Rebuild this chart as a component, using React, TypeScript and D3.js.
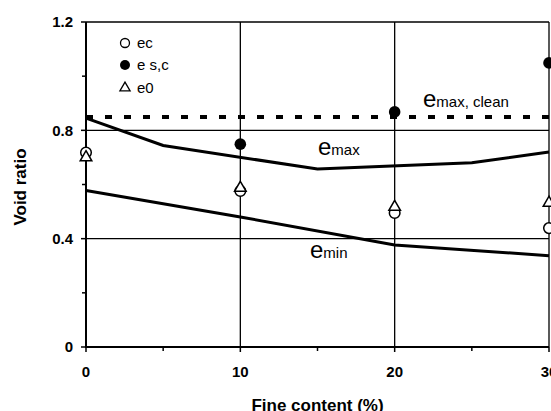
import React from "react";
import * as d3 from "d3";

// fine content (%) where the specimens were tested
const fineContent = [0, 10, 20, 30];
const ecValues = [0.718, 0.576, 0.495, 0.439];
const escValues = [null, 0.749, 0.868, 1.049];
const e0Values = [0.7, 0.587, 0.517, 0.532];

// limit void ratio curves
const emaxFines = [0, 5, 15, 25, 30];
const emaxValues = [0.845, 0.744, 0.657, 0.68, 0.72];
const eminFines = [0, 10, 20, 30];
const eminValues = [0.578, 0.48, 0.377, 0.337];
const emaxClean = 0.849;

const xTicks = [0, 10, 20, 30];
const xMinor = [5, 15, 25];
const yTicks = [0, 0.4, 0.8, 1.2];
const yMinor = [0.2, 0.6, 1.0];

const W = 551;
const H = 411;
const font = "'Liberation Sans', Arial, sans-serif";

export default function App() {
  const x = d3.scaleLinear().domain([0, 30]).range([86, 549]);
  const y = d3.scaleLinear().domain([0, 1.2]).range([347, 22]);

  const line = d3
    .line<[number, number]>()
    .x((d) => x(d[0]))
    .y((d) => y(d[1]));

  const emaxPts = emaxFines.map((f, i) => [f, emaxValues[i]] as [number, number]);
  const eminPts = eminFines.map((f, i) => [f, eminValues[i]] as [number, number]);

  const tri = d3.symbol(d3.symbolTriangle, 58)()!;
  const x0 = x(0);
  const xEnd = x(30);

  return (
    <svg
      width={W}
      height={H}
      style={{ position: "absolute", left: 0, top: 0, background: "#fff" }}
      fontFamily={font}
    >
      {/* grid */}
      {yTicks.filter((t) => t > 0).map((t) => (
        <line key={"gy" + t} x1={x0} x2={xEnd} y1={y(t)} y2={y(t)} stroke="#000" strokeWidth={1.3} />
      ))}
      {xTicks.filter((t) => t > 0).map((t) => (
        <line key={"gx" + t} x1={x(t)} x2={x(t)} y1={y(0)} y2={y(1.2)} stroke="#000" strokeWidth={1.3} />
      ))}

      {/* axes */}
      <line x1={x0} x2={x0} y1={y(0) + 1} y2={y(1.2)} stroke="#000" strokeWidth={2} />
      <line x1={x0 - 1} x2={xEnd} y1={y(0)} y2={y(0)} stroke="#000" strokeWidth={2} />
      {yTicks.map((t) => (
        <g key={"yt" + t}>
          <line x1={x0 - 5} x2={x0} y1={y(t)} y2={y(t)} stroke="#000" strokeWidth={1.5} />
          <text x={x0 - 13} y={y(t)} dy="0.35em" textAnchor="end" fontSize={15} fontWeight="bold">
            {t === 0 ? "0" : d3.format(".1f")(t)}
          </text>
        </g>
      ))}
      {yMinor.map((t) => (
        <line key={"ym" + t} x1={x0 - 4} x2={x0} y1={y(t)} y2={y(t)} stroke="#000" strokeWidth={1.5} />
      ))}
      {xTicks.map((t) => (
        <g key={"xt" + t}>
          <line x1={x(t)} x2={x(t)} y1={y(0)} y2={y(0) + 5} stroke="#000" strokeWidth={1.5} />
          <text x={x(t)} y={y(0) + 30} textAnchor="middle" fontSize={15} fontWeight="bold">
            {t}
          </text>
        </g>
      ))}
      {xMinor.map((t) => (
        <line key={"xm" + t} x1={x(t)} x2={x(t)} y1={y(0)} y2={y(0) + 4} stroke="#000" strokeWidth={1.5} />
      ))}

      <text x={(x0 + xEnd) / 2} y={411} textAnchor="middle" fontSize={17} fontWeight="bold">
        Fine content (%)
      </text>
      <text
        transform={`translate(26, 187) rotate(-90)`}
        textAnchor="middle"
        fontSize={17}
        fontWeight="bold"
      >
        Void ratio
      </text>

      {/* curves */}
      <path d={line(emaxPts)!} fill="none" stroke="#000" strokeWidth={3} />
      <path d={line(eminPts)!} fill="none" stroke="#000" strokeWidth={3} />
      <line
        x1={x0}
        x2={xEnd}
        y1={y(emaxClean)}
        y2={y(emaxClean)}
        stroke="#000"
        strokeWidth={4}
        strokeDasharray="7 12"
      />

      {/* points */}
      {fineContent.map((f, i) => (
        <g key={"p" + f}>
          <circle cx={x(f)} cy={y(ecValues[i])} r={5.3} fill="#fff" stroke="#000" strokeWidth={1.5} />
          <path
            d={tri}
            transform={`translate(${x(f)},${y(e0Values[i])})`}
            fill="#fff"
            stroke="#000"
            strokeWidth={1.5}
          />
          {escValues[i] != null && <circle cx={x(f)} cy={y(escValues[i] as number)} r={5.8} fill="#000" />}
        </g>
      ))}

      {/* curve labels */}
      <text x={423} y={107}>
        <tspan fontSize={24}>e</tspan>
        <tspan fontSize={15}>max, clean</tspan>
      </text>
      <text x={318} y={155}>
        <tspan fontSize={24}>e</tspan>
        <tspan fontSize={15}>max</tspan>
      </text>
      <text x={310} y={258}>
        <tspan fontSize={24}>e</tspan>
        <tspan fontSize={15}>min</tspan>
      </text>

      {/* legend */}
      <circle cx={125} cy={43} r={4.5} fill="#fff" stroke="#000" strokeWidth={1.3} />
      <text x={137} y={48} fontSize={15}>ec</text>
      <circle cx={125} cy={65} r={5} fill="#000" />
      <text x={137} y={70} fontSize={15}>e s,c</text>
      <path d={d3.symbol(d3.symbolTriangle, 45)()!} transform="translate(125,88)" fill="#fff" stroke="#000" strokeWidth={1.3} />
      <text x={137} y={93} fontSize={15}>e0</text>
    </svg>
  );
}
